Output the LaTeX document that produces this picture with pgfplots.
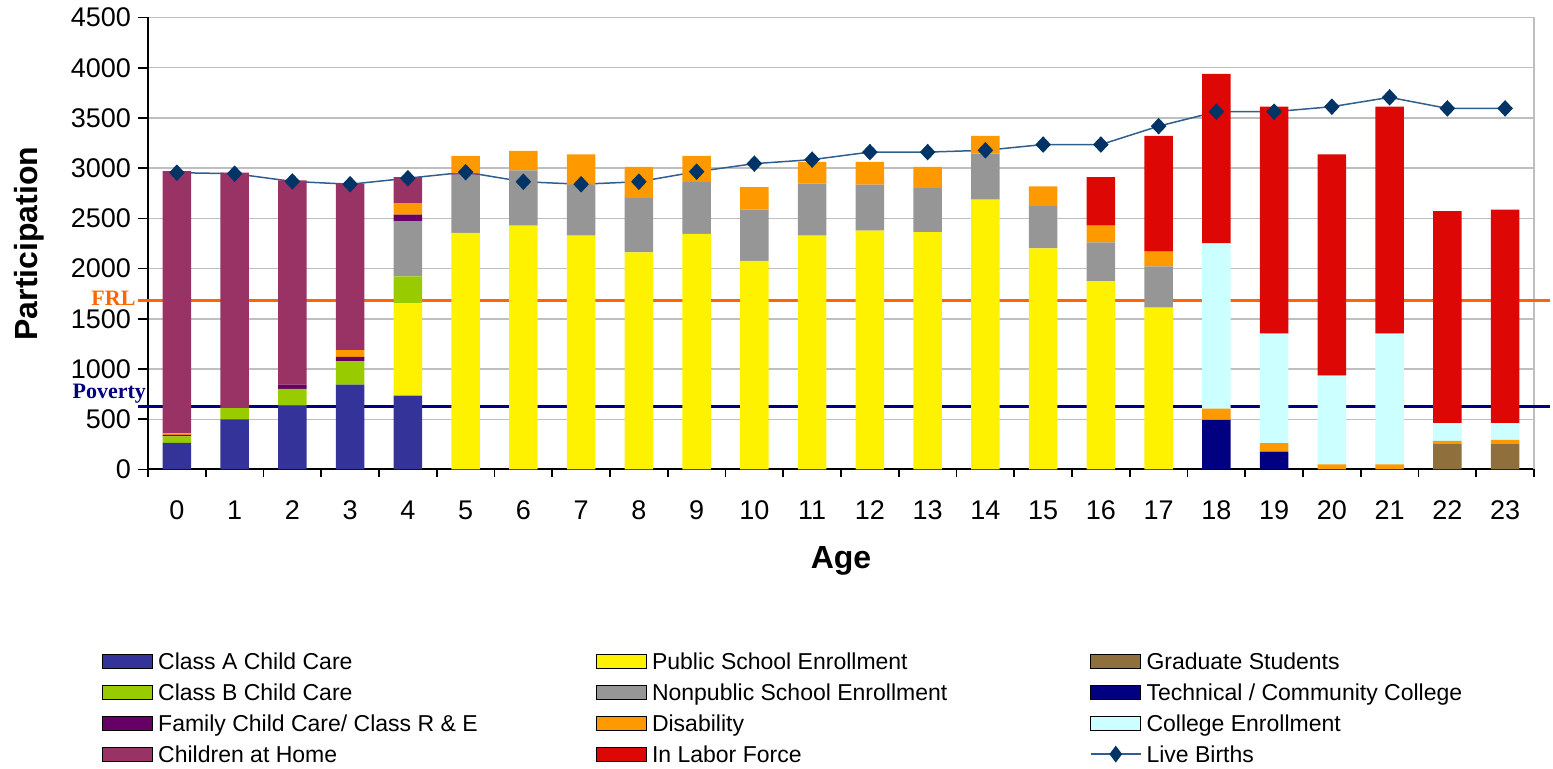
\documentclass[border=0pt]{standalone}
\usepackage{pgfplots}
\pgfplotsset{compat=1.18}
\usepackage{pgfplotstable}
\usepackage{fontspec}
\setmainfont{Liberation Sans}
\newfontfamily\labelserif{Liberation Serif}

\definecolor{cA}{HTML}{333399}
\definecolor{cB}{HTML}{99CC00}
\definecolor{cF}{HTML}{660066}
\definecolor{cC}{HTML}{993366}
\definecolor{cP}{HTML}{FFF200}
\definecolor{cN}{HTML}{969696}
\definecolor{cD}{HTML}{FF9900}
\definecolor{cL}{HTML}{DD0806}
\definecolor{cG}{HTML}{8F703C}
\definecolor{cT}{HTML}{000080}
\definecolor{cCol}{HTML}{CCFFFF}
\definecolor{cBirth}{HTML}{003366}
\definecolor{cLine}{HTML}{2F5F8F}
\definecolor{cFRL}{HTML}{FF6600}
\definecolor{cPov}{HTML}{000080}

% segment heights, stacked bottom to top
\pgfplotstableread{
age A   G   T   P    B   N   F  D   Col  C    L
0   265 0   0   0    65  0   15 15  0    2610 0
1   500 0   0   0    110 0   0  0   0    2345 0
2   635 0   0   0    167 0   43 0   0    2033 0
3   845 0   0   0    233 0   44 66  0    1657 0
4   735 0   0   920  267 550 66 114 0    260  0
5   0   0   0   2355 0   580 10 177 0    0    0
6   0   0   0   2428 0   550 0  194 0    0    0
7   0   0   0   2328 0   507 0  303 0    0    0
8   0   0   0   2162 0   540 0  310 0    0    0
9   0   0   0   2345 0   517 0  260 0    0    0
10  0   0   0   2078 0   510 0  224 0    0    0
11  0   0   0   2328 0   517 0  217 0    0    0
12  0   0   0   2378 0   457 0  227 0    0    0
13  0   0   0   2362 0   440 0  210 0    0    0
14  0   0   0   2688 0   457 0  177 0    0    0
15  0   0   0   2202 0   420 0  196 0    0    0
16  0   0   0   1872 0   390 0  166 0    0    484
17  0   0   0   1612 0   410 0  146 0    0    1154
18  0   0   495 0    0   0   0  110 1647 0    1686
19  0   0   178 0    0   0   0  84  1090 0    2260
20  0   0   0   0    0   0   0  52  883  0    2203
21  0   0   0   0    0   0   0  52  1300 0    2260
22  0   252 0   0    0   0   0  33  177  0    2110
23  0   252 0   0    0   0   0  43  167  0    2126
}\data

\pgfplotstableread{
age births
0  2955
1  2945
2  2868
3  2840
4  2900
5  2960
6  2865
7  2840
8  2865
9  2965
10 3045
11 3085
12 3160
13 3160
14 3178
15 3235
16 3235
17 3418
18 3562
19 3562
20 3612
21 3705
22 3595
23 3595
}\births

\pgfplotsset{
  barleg/.style={legend image code/.code={\draw[##1] (0pt,-3.5pt) rectangle (25pt,3.5pt);}},
  lineleg/.style={legend image code/.code={\draw[##1,sharp plot,mark repeat=2,mark phase=2] plot coordinates {(0pt,0pt) (12.5pt,0pt) (25pt,0pt)};}},
}
\newcommand{\legent}[1]{\addlegendentry{\makebox[219pt][l]{\strut #1}}}

\begin{document}
\begin{tikzpicture}
\begin{axis}[
    scale only axis,
    width=693pt, height=226pt,
    ybar stacked,
    bar width=0.49,
    clip=false,
    xmin=-0.5, xmax=23.5,
    ymin=0, ymax=4500,
    ytick distance=500,
    xtick={0,...,23},
    minor xtick={-0.5,0.5,...,23.5},
    axis x line*=bottom,
    axis y line*=left,
    axis line style={line width=1pt},
    tick align=outside,
    major tick length=5pt,
    minor tick length=4pt,
    major x tick style={draw=none},
    minor x tick style={black,line width=0.8pt},
    major y tick style={black,line width=0.8pt},
    ymajorgrids=true,
    grid style={color=black!25,line width=0.7pt},
    /pgf/number format/assume math mode=true,
    /pgf/number format/1000 sep={},
    tick label style={font=\fontsize{13.5}{15}\selectfont},
    xticklabel style={yshift=-7pt},
    xlabel={Age},
    ylabel={Participation},
    label style={font=\fontsize{16}{19}\selectfont\bfseries},
    xlabel style={yshift=-6.5pt},
    ylabel style={yshift=6.5pt},
    legend columns=3,
    legend cell align=left,
    legend style={draw=none, fill=none,
      at={(-0.0375,-0.3896)}, anchor=north west,
      font=\fontsize{11.5}{13.6}\selectfont,
      nodes={inner sep=0pt},
      column sep=0pt, row sep=4.5pt,
      /tikz/every odd column/.append style={column sep=2.5pt}},
]
\addplot[forget plot, fill=cA,   draw=none] table[x=age,y=A]   {\data};
\addplot[forget plot, fill=cG,   draw=none] table[x=age,y=G]   {\data};
\addplot[forget plot, fill=cT,   draw=none] table[x=age,y=T]   {\data};
\addplot[forget plot, fill=cP,   draw=none] table[x=age,y=P]   {\data};
\addplot[forget plot, fill=cB,   draw=none] table[x=age,y=B]   {\data};
\addplot[forget plot, fill=cN,   draw=none] table[x=age,y=N]   {\data};
\addplot[forget plot, fill=cF,   draw=none] table[x=age,y=F]   {\data};
\addplot[forget plot, fill=cD,   draw=none] table[x=age,y=D]   {\data};
\addplot[forget plot, fill=cCol, draw=none] table[x=age,y=Col] {\data};
\addplot[forget plot, fill=cC,   draw=none] table[x=age,y=C]   {\data};
\addplot[forget plot, fill=cL,   draw=none] table[x=age,y=L]   {\data};

% reference lines
\addplot[forget plot, sharp plot, stack plots=false, cFRL, line width=1.5pt] coordinates {(-0.67,1680) (23.78,1680)};
\addplot[forget plot, sharp plot, stack plots=false, cPov, line width=1.5pt] coordinates {(-0.67,628) (23.78,628)};
\node[anchor=east, text=cFRL, font=\labelserif\bfseries\fontsize{11}{13}\selectfont, inner sep=0pt] at (axis cs:-0.71,1700) {FRL};
\node[anchor=east, text=cPov, font=\labelserif\bfseries\fontsize{11}{13}\selectfont, inner sep=0pt] at (axis cs:-0.53,755) {Poverty};

% live births
\addplot[forget plot, sharp plot, stack plots=false, cLine, line width=0.75pt,
  mark=diamond*, mark size=3.6pt, mark options={fill=cBirth,draw=cBirth,xscale=1.25}]
  table[x=age,y=births] {\births};

\draw[black!25, line width=0.7pt] (rel axis cs:1,0) -- (rel axis cs:1,1);

% legend, filled row by row
\addlegendimage{barleg, fill=cA, draw=none}\legent{Class A Child Care}
\addlegendimage{barleg, fill=cP, draw=none}\legent{Public School Enrollment}
\addlegendimage{barleg, fill=cG, draw=none}\legent{Graduate Students}
\addlegendimage{barleg, fill=cB, draw=none}\legent{Class B Child Care}
\addlegendimage{barleg, fill=cN, draw=none}\legent{Nonpublic School Enrollment}
\addlegendimage{barleg, fill=cT, draw=none}\legent{Technical / Community College}
\addlegendimage{barleg, fill=cF, draw=none}\legent{Family Child Care/ Class R \& E}
\addlegendimage{barleg, fill=cD, draw=none}\legent{Disability}
\addlegendimage{barleg, fill=cCol, draw=none}\legent{College Enrollment}
\addlegendimage{barleg, fill=cC, draw=none}\legent{Children at Home}
\addlegendimage{barleg, fill=cL, draw=none}\legent{In Labor Force}
\addlegendimage{lineleg, cLine, line width=0.75pt, mark=diamond*, mark size=3.6pt, mark options={fill=cBirth,draw=cBirth}}\legent{Live Births}
\end{axis}
\pgfresetboundingbox
\path[use as bounding box] ([xshift=-74pt,yshift=-149.75pt]current axis.south west) rectangle ([xshift=9.5pt,yshift=8.75pt]current axis.north east);
\end{tikzpicture}
\end{document}
